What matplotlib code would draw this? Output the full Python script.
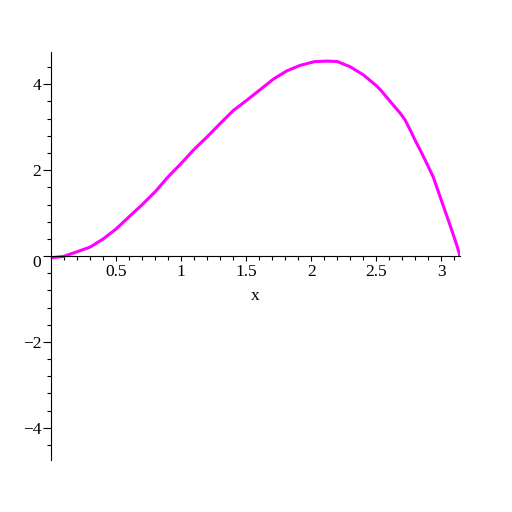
import numpy as np
import matplotlib.pyplot as plt
from matplotlib.ticker import MultipleLocator, FixedLocator

plt.rcParams['font.family'] = ['Liberation Serif', 'DejaVu Serif']

# curve
x_vals = [0.0, 0.092, 0.17, 0.3, 0.4, 0.5, 0.6, 0.7, 0.8, 0.9, 1.0, 1.1, 1.2,
          1.3, 1.4, 1.5, 1.6, 1.708, 1.81, 1.913, 2.028, 2.118, 2.2, 2.298,
          2.4, 2.503, 2.541, 2.618, 2.683, 2.721, 2.76, 2.798, 2.837, 2.875,
          2.938, 3.015, 3.067, 3.105, 3.138, 3.1416]
y_vals = [-0.04, -0.01, 0.07, 0.21, 0.40, 0.635, 0.92, 1.20, 1.50, 1.85, 2.16,
          2.49, 2.78, 3.09, 3.39, 3.62, 3.86, 4.12, 4.31, 4.44, 4.53, 4.54,
          4.53, 4.41, 4.22, 3.96, 3.84, 3.56, 3.33, 3.17, 2.94, 2.70, 2.47,
          2.24, 1.84, 1.17, 0.72, 0.38, 0.07, 0.0]

xticks = [0.5, 1, 1.5, 2, 2.5, 3]
xtick_labels = ['0.5', '1', '1.5', '2', '2.5', '3']
yticks = [-4, -2, 0, 2, 4]
ytick_labels = ['\u22124', '\u22122', '', '2', '4']

fig = plt.figure(figsize=(5.12, 5.12), dpi=100)
ax = fig.add_axes([0.1002, 0.1016, 0.7977, 0.7975])

ax.plot(x_vals, y_vals, color='#ff00ff', linewidth=2.2, solid_capstyle='butt')

ax.set_xlim(0, np.pi)
ax.set_ylim(-4.75, 4.76)

ax.spines['top'].set_visible(False)
ax.spines['right'].set_visible(False)
ax.spines['left'].set_position(('data', 0))
ax.spines['bottom'].set_position(('data', 0))
for s in ('left', 'bottom'):
    ax.spines[s].set_linewidth(0.8)

ax.xaxis.set_major_locator(FixedLocator(xticks))
ax.set_xticklabels(xtick_labels)
ax.xaxis.set_minor_locator(MultipleLocator(0.1))
ax.yaxis.set_major_locator(FixedLocator(yticks))
ax.set_yticklabels(ytick_labels)
ax.yaxis.set_minor_locator(MultipleLocator(0.4))

ax.tick_params(axis='x', which='major', direction='out', length=3.6, width=0.8,
               pad=2, labelsize=12.5)
ax.tick_params(axis='x', which='minor', direction='out', length=3.0, width=0.8)
ax.tick_params(axis='y', which='major', direction='out', length=5.8, width=0.8,
               pad=1.5, labelsize=12.5)
ax.tick_params(axis='y', which='minor', direction='out', length=3.0, width=0.8)

# zero label sits a little below the axis, as in the reference
ax.annotate('0', xy=(0, 0), xytext=(-7.5, -4.8), textcoords='offset points',
            ha='right', va='center', fontsize=12.5)
ax.annotate('x', xy=(np.pi / 2, 0), xytext=(0, -29), textcoords='offset points',
            ha='center', va='center', fontsize=12.5)

fig.savefig('out.png', dpi=100)
